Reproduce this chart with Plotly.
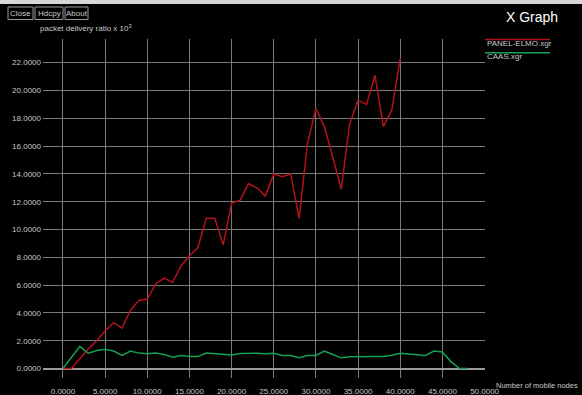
import plotly.graph_objects as go

# ---- data ----
nodes_red = list(range(0, 41))
panel_elmo = [0.0, 0.0, 0.7, 1.4, 2.0, 2.7, 3.3, 2.9, 4.2, 4.9,
              5.0, 6.1, 6.5, 6.2, 7.4, 8.1, 8.7, 10.8, 10.8, 8.9,
              11.9, 12.1, 13.3, 13.0, 12.4, 14.0, 13.8, 14.0, 10.8, 16.2,
              18.7, 17.4, 15.2, 12.9, 17.6, 19.3, 19.0, 21.1, 17.4, 18.6,
              22.3]
nodes_green = list(range(0, 49))
caas = [0.0, 0.8, 1.6, 1.1, 1.3, 1.38, 1.26, 0.94, 1.26, 1.11,
        1.06, 1.11, 1.01, 0.81, 0.94, 0.86, 0.86, 1.11, 1.05, 1.0,
        0.98, 1.08, 1.11, 1.1, 1.06, 1.1, 0.94, 0.94, 0.77, 0.94,
        0.94, 1.26, 1.01, 0.77, 0.84, 0.86, 0.86, 0.86, 0.86, 0.95,
        1.1, 1.06, 1.02, 0.94, 1.26, 1.19, 0.5, 0.02, 0.0]
x_ticks = [0, 5, 10, 15, 20, 25, 30, 35, 40, 45, 50]
y_ticks = [0, 2, 4, 6, 8, 10, 12, 14, 16, 18, 20, 22]
series_names = ["PANEL-ELMO.xgr", "CAAS.xgr"]
series_colors = ["#b3121c", "#14a050"]

W, H = 582, 395
L, R, T, B = 43, 97, 39, 17
PW, PH = W - L - R, H - T - B

def px(x):
    return (x - L) / PW

def py(y):
    return (H - B - y) / PH

FONT = "Liberation Sans"
TXT = "#c8c8c8"

fig = go.Figure()
fig.add_trace(go.Scatter(x=nodes_red, y=panel_elmo, mode="lines",
                         line=dict(color=series_colors[0], width=1.5),
                         name=series_names[0]))
fig.add_trace(go.Scatter(x=nodes_green, y=caas, mode="lines",
                         line=dict(color=series_colors[1], width=1.5),
                         name=series_names[1]))

fig.update_layout(
    width=W, height=H,
    margin=dict(l=L, r=R, t=T, b=B, autoexpand=False),
    paper_bgcolor="black", plot_bgcolor="black",
    showlegend=False,
    font=dict(family=FONT, size=8, color=TXT),
    xaxis=dict(range=[-2.37, 50.05], tickvals=x_ticks,
               ticktext=["%.4f" % v for v in x_ticks],
               showgrid=True, gridcolor="#7a7a7a", gridwidth=1,
               zeroline=False, showline=False, ticks="",
               ticklabelstandoff=7, automargin=False,
               tickfont=dict(family=FONT, size=8, color=TXT)),
    yaxis=dict(range=[-0.68, 23.7], tickvals=y_ticks,
               ticktext=["%.4f" % v for v in y_ticks],
               showgrid=True, gridcolor="#7a7a7a", gridwidth=1,
               zeroline=True, zerolinecolor="#9a9a9a", zerolinewidth=1.5,
               showline=False, ticks="", ticklabelstandoff=1, automargin=False,
               tickfont=dict(family=FONT, size=8, color=TXT)),
)

shapes = []
ann = []
# top light strip
shapes.append(dict(type="rect", xref="paper", yref="paper",
                   x0=px(0), x1=px(W), y0=py(0), y1=py(4),
                   fillcolor="#d6d6d6", line=dict(width=0), layer="above"))
# buttons
for label, x0, x1 in [("Close", 8, 33), ("Hdcpy", 35, 63), ("About", 65, 88)]:
    shapes.append(dict(type="rect", xref="paper", yref="paper",
                       x0=px(x0), x1=px(x1), y0=py(7), y1=py(19.5),
                       line=dict(color="#9a9a9a", width=1), fillcolor="black"))
    ann.append(dict(text=label, xref="paper", yref="paper",
                    x=px((x0 + x1) / 2), y=py(13.3), showarrow=False,
                    xanchor="center", yanchor="middle",
                    font=dict(family=FONT, size=8, color=TXT)))
# title
ann.append(dict(text="X Graph", xref="paper", yref="paper", x=px(532), y=py(17),
                showarrow=False, xanchor="center", yanchor="middle",
                font=dict(family=FONT, size=14, color="white")))
# axis titles
ann.append(dict(text="packet delivery ratio x 10<sup>3</sup>", xref="paper", yref="paper",
                x=px(38), y=py(28), showarrow=False, xanchor="left", yanchor="middle",
                font=dict(family=FONT, size=8, color=TXT)))
ann.append(dict(text="Number of mobile nodes", xref="paper", yref="paper",
                x=px(580), y=py(386), showarrow=False, xanchor="right", yanchor="middle",
                font=dict(family=FONT, size=7.5, color=TXT)))
# legend
for i, (nm, col, ly, ty) in enumerate([(series_names[0], series_colors[0], 39.5, 44),
                                        (series_names[1], series_colors[1], 52.7, 57)]):
    shapes.append(dict(type="line", xref="paper", yref="paper",
                       x0=px(485), x1=px(550), y0=py(ly), y1=py(ly),
                       line=dict(color=col, width=1.5)))
    ann.append(dict(text=nm, xref="paper", yref="paper", x=px(485), y=py(ty),
                    showarrow=False, xanchor="left", yanchor="middle",
                    font=dict(family=FONT, size=8, color=TXT)))

fig.update_layout(shapes=shapes, annotations=ann)
fig.write_html("out.html")
